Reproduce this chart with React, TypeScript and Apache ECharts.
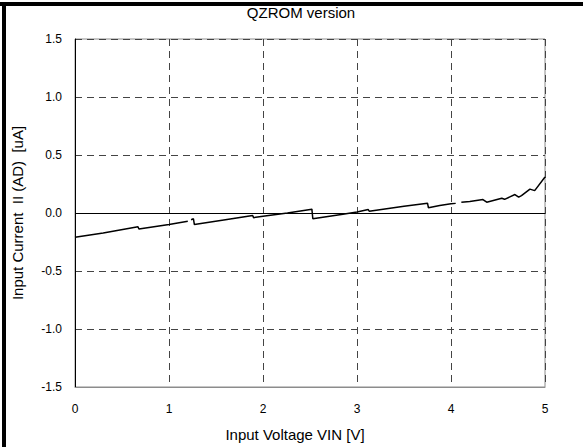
import React, { useEffect, useRef } from "react";
import * as echarts from "echarts";

const voltage = [
  0.0, 0.3, 0.67, 0.68, 1.0, 1.2, 1.215, 1.235, 1.26, 1.27, 1.6, 1.89, 1.9, 2.0, 2.26, 2.52, 2.53, 2.85, 3.0,
  3.12, 3.13, 3.5, 3.75, 3.76, 3.88, 4.0, 4.05, 4.07, 4.11, 4.2, 4.34, 4.38, 4.54, 4.57, 4.68, 4.72, 4.75,
  4.84, 4.89, 5.0,
];
const current: (number | string)[] = [
  -0.21, -0.172, -0.119, -0.138, -0.099, -0.072, "-", -0.058, -0.05, -0.1, -0.058, -0.022, -0.04, -0.028,
  0.0, 0.033, -0.05, -0.01, 0.008, 0.03, 0.015, 0.058, 0.085, 0.045, 0.065, 0.079, 0.083, "-", 0.093, 0.1,
  0.116, 0.093, 0.127, 0.118, 0.159, 0.136, 0.15, 0.206, 0.193, 0.31,
];
const xTicks = [0, 1, 2, 3, 4, 5];
const yTicks = [-1.5, -1.0, -0.5, 0.0, 0.5, 1.0, 1.5];

const FONT = "'Liberation Sans', Arial, sans-serif";

export default function App() {
  const ref = useRef<HTMLDivElement>(null);
  useEffect(() => {
    if (!ref.current) return;
    const chart = echarts.init(ref.current, null, { renderer: "svg" });
    const data = voltage.map((v, i) => [v, current[i]]);
    chart.setOption({
      animation: false,
      backgroundColor: "#ffffff",
      textStyle: { fontFamily: FONT },
      title: {
        text: "QZROM version",
        left: 296,
        top: 0,
        textAlign: "center",
        textStyle: { fontFamily: FONT, fontSize: 15, fontWeight: "normal", color: "#000" },
      },
      grid: {
        left: 75,
        right: 38,
        top: 39,
        bottom: 55,
        show: true,
        borderColor: "#8c8c8c",
        borderWidth: 1,
        backgroundColor: "transparent",
      },
      xAxis: {
        type: "value",
        min: xTicks[0],
        max: xTicks[xTicks.length - 1],
        interval: 1,
        name: "Input Voltage VIN [V]",
        nameLocation: "middle",
        nameGap: 40,
        nameTextStyle: { fontFamily: FONT, fontSize: 15, color: "#000", padding: [0, 30, 0, 0] },
        axisLine: { show: true, onZero: false, lineStyle: { color: "#8c8c8c", width: 1 } },
        axisTick: { show: false },
        axisLabel: { fontFamily: FONT, fontSize: 12, color: "#000", margin: 16 },
        splitLine: { show: true, lineStyle: { color: "#444", type: [7, 5], width: 1 } },
      },
      yAxis: {
        type: "value",
        min: yTicks[0],
        max: yTicks[yTicks.length - 1],
        interval: 0.5,
        name: "Input Current  II (AD)  [uA]",
        nameLocation: "middle",
        nameRotate: 90,
        nameGap: 50,
        nameTextStyle: { fontFamily: FONT, fontSize: 15, color: "#000" },
        axisLine: { show: true, lineStyle: { color: "#000", width: 1 } },
        axisTick: { show: false },
        axisLabel: {
          fontFamily: FONT,
          fontSize: 12,
          color: "#000",
          margin: 13,
          formatter: (v: number) => v.toFixed(1),
        },
        splitLine: { show: true, lineStyle: { color: "#444", type: [7, 5], width: 1 } },
      },
      series: [
        {
          type: "line",
          data,
          showSymbol: false,
          symbol: "none",
          connectNulls: false,
          lineStyle: { color: "#000", width: 1.5 },
          markLine: {
            silent: true,
            symbol: "none",
            label: { show: false },
            lineStyle: { color: "#000", type: "solid", width: 1 },
            data: [{ yAxis: 0 }],
          },
        },
      ],
      graphic: [
        { type: "rect", shape: { x: 0, y: 2, width: 583, height: 4 }, style: { fill: "#000" } },
        { type: "rect", shape: { x: 2, y: 2, width: 4, height: 445 }, style: { fill: "#000" } },
      ],
    });
    return () => chart.dispose();
  }, []);
  return (
    <div
      ref={ref}
      style={{ position: "fixed", left: 0, top: 0, width: 583, height: 447, background: "#fff" }}
    />
  );
}
